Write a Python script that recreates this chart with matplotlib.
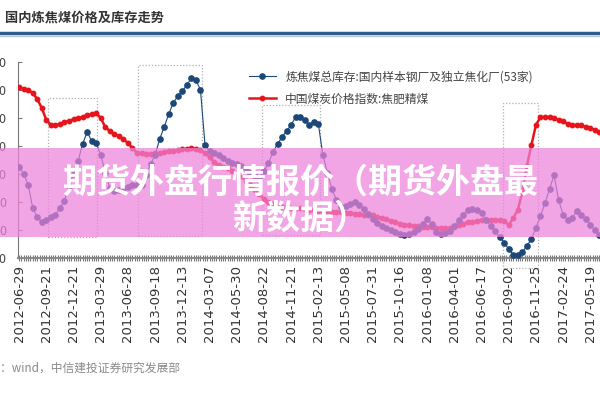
import matplotlib.pyplot as plt
from matplotlib.patches import Rectangle
from matplotlib.lines import Line2D

plt.rcParams['font.family'] = ['Noto Sans CJK SC', 'DejaVu Sans']

tick_labels = ['2012-06-29', '2012-09-21', '2012-12-21', '2013-03-29', '2013-06-28',
               '2013-09-18', '2013-12-13', '2014-03-07', '2014-05-30', '2014-08-22',
               '2014-11-21', '2015-02-13', '2015-05-08', '2015-07-31', '2015-10-16',
               '2016-01-08', '2016-04-01', '2016-06-17', '2016-09-02', '2016-11-25',
               '2017-02-24', '2017-05-19']

# week index of each sample (one label every 12 weeks)
weeks = list(range(0, 258, 2))

# 中国煤炭价格指数:焦肥精煤
price_index = [1621, 1610, 1600, 1578, 1535, 1471, 1385, 1350, 1350, 1357,
               1371, 1378, 1392, 1400, 1407, 1421, 1428, 1435, 1400, 1335,
               1307, 1285, 1271, 1250, 1221, 1185, 1150, 1150, 1143, 1143,
               1150, 1150, 1157, 1164, 1164, 1171, 1178, 1178, 1185, 1178,
               1171, 1150, 1121, 1085, 1064, 1050, 1043, 1021, 1007, 985,
               950, 921, 886, 857, 821, 800, 786, 771, 764, 764,
               757, 757, 757, 750, 743, 743, 736, 736, 736, 728,
               728, 728, 721, 721, 714, 714, 707, 707, 707, 693,
               686, 678, 664, 657, 643, 636, 636, 628, 628, 621,
               621, 621, 614, 614, 614, 614, 621, 636, 643, 657,
               657, 664, 671, 671, 671, 671, 671, 664, 636, 686,
               743, 871, 1057, 1207, 1350, 1407, 1407, 1407, 1400, 1385,
               1378, 1357, 1350, 1350, 1350, 1335, 1328, 1314, 1300]

# 炼焦煤总库存:国内样本钢厂及独立焦化厂(53家)
inventory = [1025, 1000, 961, 879, 846, 829, 836, 846, 854, 879,
             904, 957, 1000, 1046, 1107, 1150, 1118, 1111, 1068, 1004,
             950, 939, 943, 950, 954, 961, 961, 961, 996, 1036,
             1068, 1125, 1168, 1214, 1254, 1278, 1296, 1318, 1343, 1336,
             1300, 1104, 1082, 1075, 1068, 1057, 1046, 1039, 1036, 1029,
             1018, 1004, 993, 986, 1011, 1039, 1079, 1107, 1132, 1154,
             1175, 1204, 1204, 1193, 1175, 1186, 1179, 1068, 1004, 946,
             907, 882, 886, 893, 900, 889, 875, 857, 839, 825,
             814, 807, 800, 793, 786, 782, 786, 793, 804, 821,
             839, 821, 793, 786, 789, 796, 814, 836, 854, 871,
             875, 871, 861, 836, 814, 796, 775, 754, 732, 711,
             711, 721, 743, 768, 807, 850, 896, 946, 996, 907,
             854, 836, 843, 868, 854, 839, 818, 800, 782]

# highlighted periods: (start week, end week, low, high) on the price axis
periods = [(12.8, 34.4, 550, 1542), (52.5, 80.7, 557, 1778),
           (107.2, 132.8, 564, 1492), (213.5, 228.9, 329, 1507)]

fig = plt.figure(figsize=(6, 4), dpi=100)

fig.text(5 / 600, 1 - 18 / 400, '国内炼焦煤价格及库存走势', fontsize=9.5,
         fontweight='bold', color='#333333', va='center')
fig.add_artist(Line2D([0, 1], [1 - 33 / 400] * 2, color='#2f5f8f', lw=2.5))
fig.add_artist(Line2D([0, 1], [1 - 35.5 / 400] * 2, color='#b8c8d8', lw=1))

ax = fig.add_axes([18 / 600, 142 / 400, 595 / 600, 196 / 400])
ax2 = ax.twinx()

ax.plot(weeks, price_index, color='#e8141c', lw=1.8, marker='o', ms=3.2,
        label='中国煤炭价格指数:焦肥精煤', zorder=3)
ax2.plot(weeks, inventory, color='#1c4878', lw=0.8, marker='o', ms=3.8,
         label='炼焦煤总库存:国内样本钢厂及独立焦化厂(53家)', zorder=3)

for x0, x1, lo, hi in periods:
    ax.add_patch(Rectangle((x0, lo), x1 - x0, hi - lo, fill=False,
                           ec='#b0b0b0', lw=0.9, ls=(0, (1, 1.5)),
                           clip_on=False, zorder=1))

ax.set_xlim(-0.5, 262)
ax.set_ylim(400, 1800)
ax2.set_ylim(700, 1400)
ax.set_yticks(range(400, 1801, 200))
ax2.set_yticks([])

ax.set_xticks(range(0, 12 * len(tick_labels), 12))
ax.set_xticklabels(tick_labels, rotation=90, fontsize=9.5, color='#333333',
                   family='DejaVu Sans')
ax.set_xticks(range(0, 262), minor=True)
ax.tick_params(axis='x', which='both', direction='inout', length=4, width=0.8,
               color='#777777', pad=3)
ax.tick_params(axis='y', direction='in', length=3, color='#777777',
               labelsize=9, labelcolor='#444444', pad=8)

for a in (ax, ax2):
    a.spines['top'].set_visible(False)
    a.spines['right'].set_visible(False)
    a.patch.set_visible(False)
ax.spines['left'].set_color('#777777')
ax2.spines['left'].set_visible(False)
ax.spines['bottom'].set_color('#888888')
ax.spines['bottom'].set_linewidth(1.5)
ax2.spines['bottom'].set_visible(False)

h1, l1 = ax2.get_legend_handles_labels()
h2, l2 = ax.get_legend_handles_labels()
fig.legend(h1 + h2, l1 + l2, loc='upper left',
           bbox_to_anchor=(238 / 600, 1 - 60 / 400), frameon=False,
           fontsize=8.5, handlelength=2.3, labelspacing=0.75,
           labelcolor='#444444')

fig.text(180 / 600, 1 - 368 / 400, '资料来源：wind，中信建投证券研究发展部',
         fontsize=8.5, color='#8a8a8a', style='italic', ha='right',
         va='center')

# pink banner across the chart
fig.add_artist(Rectangle((0, 1 - 237 / 400), 1, 89 / 400,
                         transform=fig.transFigure, color='#ee82dc',
                         alpha=0.72, lw=0, zorder=10))
fig.text(0.5, 1 - 182 / 400, '期货外盘行情报价（期货外盘最', fontsize=24.5,
         fontweight='bold', color='white', ha='center', va='center',
         zorder=11)
fig.text(0.5, 1 - 218 / 400, '新数据）', fontsize=24.5, fontweight='bold',
         color='white', ha='center', va='center', zorder=11)

fig.savefig('out.png', dpi=100)
